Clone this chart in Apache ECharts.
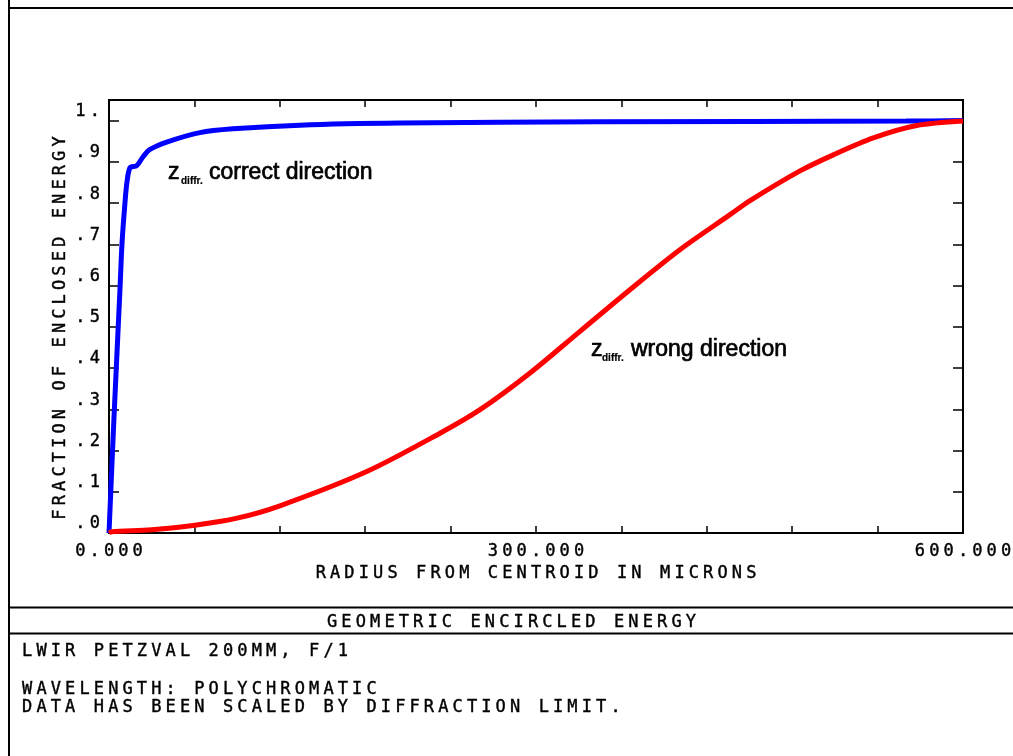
<!DOCTYPE html>
<html>
<head>
<meta charset="utf-8">
<script src="https://cdn.jsdelivr.net/npm/echarts@6/dist/echarts.min.js"></script>
<style>html,body{margin:0;padding:0;background:#fff;}#chart{width:1013px;height:756px;}</style>
</head>
<body>
<div id="chart"></div>
<script>
// ---- data ----
const blueX = [0, 3.5, 7.7, 9.1, 11.2, 12.6, 14.8, 19.5, 24.1, 28.8, 40.5, 63.9, 87.1, 134.2, 204.5, 345, 560, 600];
const blueY = [0, 0.28, 0.59, 0.70, 0.80, 0.85, 0.886, 0.891, 0.913, 0.93, 0.948, 0.971, 0.98, 0.989, 0.994, 0.997, 0.999, 1.0];
const redX = [0, 1.9, 30, 60.4, 90, 120.1, 181.1, 232.6, 260.7, 295.8, 330.9, 366.0, 401.1, 436.3, 450.4, 485.5, 508.9, 537.0, 567.5, 600];
const redY = [0, 0.003, 0.008, 0.019, 0.036, 0.066, 0.149, 0.242, 0.299, 0.388, 0.489, 0.590, 0.687, 0.772, 0.806, 0.878, 0.917, 0.958, 0.988, 0.999];
const xLabelValues = [0, 300, 600];
const xTickStep = 60;
const yTickStep = 0.1;
const xName = 'RADIUS FROM CENTROID IN MICRONS';
const yName = 'FRACTION OF ENCLOSED ENERGY';
const plotTitle = 'GEOMETRIC ENCIRCLED ENERGY';
const infoLines = ['LWIR PETZVAL 200MM, F/1', 'WAVELENGTH: POLYCHROMATIC', 'DATA HAS BEEN SCALED BY DIFFRACTION LIMIT.'];
const blueLabel = 'correct direction';
const redLabel = 'wrong direction';
const subLabel = 'diffr.';

// ---- helpers ----
const PITCH = 14.35;
// style for ECharts axis labels/names
const monoStyle = {fontFamily: 'DejaVu Sans Mono', fontSize: 17, width: PITCH, align: 'center', color: '#000', lineHeight: 17,
                   textBorderColor: '#000', textBorderWidth: 0.4};
// style for raw zrender graphic text
const monoStyleG = {fontFamily: 'DejaVu Sans Mono', fontSize: 17, width: PITCH, align: 'center', fill: '#000', lineHeight: 17,
                    stroke: '#000', lineWidth: 0.4};
function mono(s) { return s.split('').map(ch => '{c|' + ch + '}').join(''); }

const blueData = blueX.map((x, i) => [x, blueY[i]]);
const redData = redX.map((x, i) => [x, redY[i]]);

const chart = echarts.init(document.getElementById('chart'), null, {renderer: 'canvas'});
const GL = 109, GT = 100, GR = 963, GB = 533;

function monoText(str, x, y, align, extra) {
  return Object.assign({
    type: 'text', x: x, y: y,
    style: {text: mono(str), rich: {c: monoStyleG}, align: align || 'left', verticalAlign: 'middle'}
  }, extra || {});
}
function annText(str, x, y, font, sw) {
  return {type: 'text', x: x, y: y, style: {text: str, font: font, fill: '#000', stroke: '#000', lineWidth: sw, align: 'left', verticalAlign: 'middle'}};
}
const bigFont = '23px "Liberation Sans"';
const subFont = 'bold 10px "Liberation Sans"';

const graphics = [
  {type: 'line', shape: {x1: 9, y1: 0, x2: 9, y2: 756}, style: {stroke: '#000', lineWidth: 2}},
  {type: 'line', shape: {x1: 8, y1: 8, x2: 1013, y2: 8}, style: {stroke: '#000', lineWidth: 2}},
  {type: 'line', shape: {x1: 9, y1: 607.5, x2: 1013, y2: 607.5}, style: {stroke: '#000', lineWidth: 2}},
  {type: 'line', shape: {x1: 9, y1: 633.5, x2: 1013, y2: 633.5}, style: {stroke: '#000', lineWidth: 2}},
  monoText(plotTitle, 511.5, 623, 'center'),
  monoText(infoLines[0], 20, 652, 'left'),
  monoText(infoLines[1], 20, 690, 'left'),
  monoText(infoLines[2], 20, 708, 'left'),
  monoText(yName, 61, 328, 'center', {rotation: Math.PI / 2}),
  // annotations
  annText('z', 168, 173, bigFont, 0.7),
  annText(subLabel, 181, 181, subFont, 0.2),
  annText(blueLabel, 209, 173, bigFont, 0.7),
  annText('z', 591, 350, bigFont, 0.7),
  annText(subLabel, 602, 358, subFont, 0.2),
  annText(redLabel, 631, 350, bigFont, 0.7)
];

const axisCommon = {
  axisLine: {show: true, onZero: false, lineStyle: {color: '#000', width: 2}},
  splitLine: {show: false}
};

const option = {
  animation: false,
  backgroundColor: '#fff',
  grid: {left: GL, top: GT, right: 1013 - GR, bottom: 756 - GB, show: true, borderColor: '#000', borderWidth: 2,
         backgroundColor: 'transparent', containLabel: false, outerBoundsMode: 'none'},
  xAxis: [
    Object.assign({
      type: 'value', min: 0, max: 600, interval: xTickStep, position: 'bottom',
      name: mono(xName), nameLocation: 'middle', nameGap: 27,
      nameTextStyle: {rich: {c: monoStyle}},
      axisTick: {show: true, inside: true, length: 7, lineStyle: {color: '#000', width: 1.5}},
      axisLabel: {
        margin: 10, showMinLabel: true, showMaxLabel: true, hideOverlap: false,
        formatter: v => xLabelValues.indexOf(Math.round(v)) >= 0 ? mono(v.toFixed(3)) : '',
        rich: {c: monoStyle}
      }
    }, axisCommon),
    Object.assign({
      type: 'value', min: 0, max: 600, interval: xTickStep, position: 'top',
      axisTick: {show: true, inside: true, length: 7, lineStyle: {color: '#000', width: 1.5}},
      axisLabel: {show: false}
    }, axisCommon)
  ],
  yAxis: [
    Object.assign({
      type: 'value', min: 0, max: 1.05, interval: yTickStep, position: 'left',
      axisTick: {show: true, inside: true, length: 10, lineStyle: {color: '#000', width: 1.5}},
      axisLabel: {
        margin: 7, verticalAlign: 'middle', padding: [0, 0, 18, 0], showMaxLabel: false,
        formatter: v => {
          const t = Math.round(v * 10);
          if (Math.abs(v * 10 - t) > 1e-6 || t > 10) return '';
          return mono(t === 10 ? '1.' : '.' + t);
        },
        rich: {c: monoStyle}
      }
    }, axisCommon),
    Object.assign({
      type: 'value', min: 0, max: 1.05, interval: yTickStep, position: 'right',
      axisTick: {show: true, inside: true, length: 10, lineStyle: {color: '#000', width: 1.5}},
      axisLabel: {show: false}
    }, axisCommon)
  ],
  series: [
    {type: 'line', data: blueData, xAxisIndex: 0, yAxisIndex: 0, showSymbol: false, smooth: 0.3, clip: false,
     lineStyle: {color: '#0000ff', width: 5}},
    {type: 'line', data: redData, xAxisIndex: 0, yAxisIndex: 0, showSymbol: false, smooth: 0.3, clip: false,
     lineStyle: {color: '#ff0000', width: 5}}
  ],
  graphic: graphics
};
chart.setOption(option);
</script>
</body>
</html>
